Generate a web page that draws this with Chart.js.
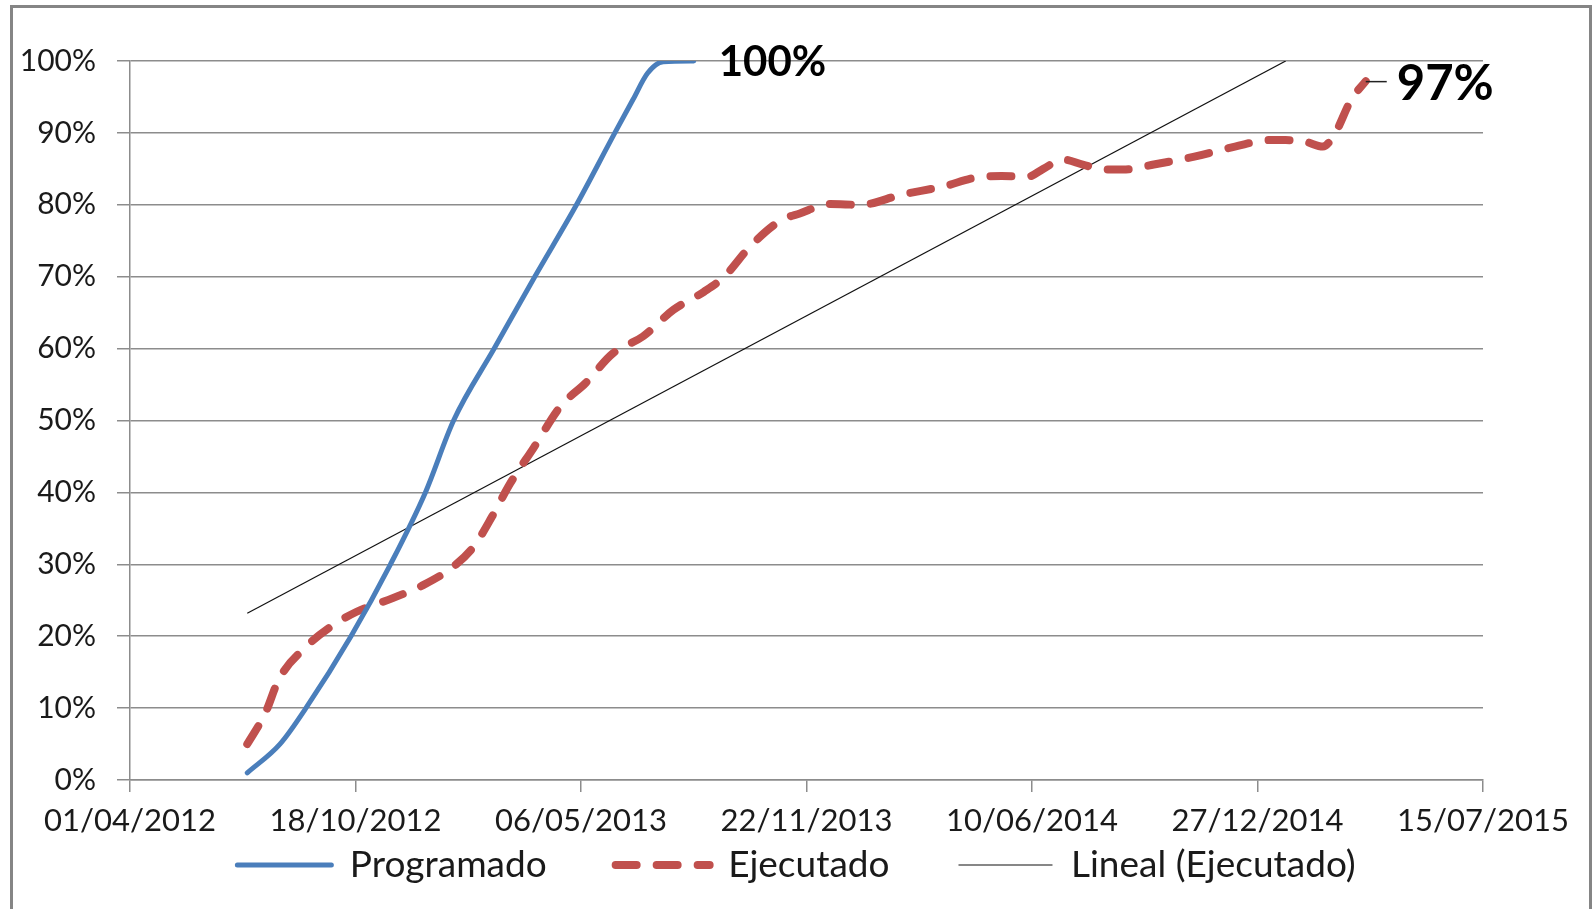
<!DOCTYPE html>
<html><head><meta charset="utf-8">
<script src="https://cdn.jsdelivr.net/npm/chart.js@4.4.1/dist/chart.umd.min.js"></script>
<style>html,body{margin:0;padding:0;background:#fff;overflow:hidden}</style>
</head><body>
<canvas id="c" width="1593" height="909"></canvas>
<script>
// ---- data ----
const seriesNames = ['Programado', 'Ejecutado', 'Lineal (Ejecutado)'];

const programadoDates = ['2012-07-14','2012-08-12','2012-09-04','2012-10-14','2012-11-18','2012-12-19',
  '2013-01-13','2013-02-18','2013-03-26','2013-05-02','2013-06-05','2013-06-21','2013-07-04','2013-07-18','2013-08-14'];
const programadoValues = [1, 5, 10, 20, 30, 40, 50, 60, 70, 80, 90, 94.6, 98.3, 99.9, 100];

const ejecutadoDates = ['2012-07-14','2012-07-30','2012-08-11','2012-09-04','2012-09-26','2012-10-19','2012-11-20',
  '2012-12-17','2013-01-13','2013-01-31','2013-02-16','2013-03-04','2013-03-25','2013-04-18','2013-05-10',
  '2013-06-03','2013-06-30','2013-07-27','2013-08-23','2013-09-10','2013-10-03','2013-10-30','2013-11-16',
  '2013-12-13','2014-01-09','2014-02-14','2014-03-22','2014-04-26','2014-05-14','2014-06-06','2014-06-20',
  '2014-07-07','2014-07-25','2014-08-12','2014-08-30','2014-09-26','2014-11-01','2014-12-07','2015-01-07',
  '2015-01-21','2015-02-07','2015-02-23','2015-03-06','2015-03-20','2015-04-02'];
const ejecutadoValues = [5, 9.3, 14, 18.5, 21.3, 23.4, 25.3, 27.1, 29.7, 32.5, 36.6, 41.2, 46.2, 52, 55.2,
  59.3, 61.7, 65.4, 67.9, 70, 74.2, 77.8, 78.8, 80.1, 80, 81.4, 82.5, 83.9, 84, 83.9, 85,
  86.3, 85.6, 84.9, 84.9, 85.6, 86.7, 88.1, 89, 89, 88.8, 88.1, 90, 94.6, 97.2];

const trendDates = ['2012-07-14', '2015-01-21'];
const trendValues = [23.2, 100];

const xAxisStart = '2012-04-01';
const xAxisEnd = '2015-07-15';
const xAxisStepDays = 200;
const yAxisMin = 0, yAxisMax = 100, yAxisStep = 10;

// ---- helpers ----
function toSerial(iso) { return Date.parse(iso + 'T00:00:00Z') / 86400000 + 25569; }
function fmtSerial(s) {
  const d = new Date(Math.round((s - 25569) * 86400000));
  const p = n => String(n).padStart(2, '0');
  return p(d.getUTCDate()) + '/' + p(d.getUTCMonth() + 1) + '/' + d.getUTCFullYear();
}
const pts = (dates, vals) => dates.map((d, i) => ({x: toSerial(d), y: vals[i]}));

const FONT = 'Lato';
const TXT = '#1a1a1a';
const GRID = '#8c8c8c';

const frame = {
  id: 'frame',
  beforeDraw(chart) {
    const c = chart.ctx;
    c.save();
    c.fillStyle = '#fff';
    c.fillRect(0, 0, chart.width, chart.height);
    c.strokeStyle = '#858585';
    c.lineWidth = 3;
    c.strokeRect(11.5, 6.5, 1579, 1000);
    c.restore();
  }
};

// place the legend row like the original (below the axis labels, shifted right)
const legendPlace = {
  id: 'legendPlace',
  afterLayout(chart) {
    const lg = chart.legend;
    if (!lg) return;
    const h = lg.height;
    lg.top = 777.5; lg.bottom = lg.top + h;
    lg.left += 55; lg.right += 55;
  }
};

const endLabelStyle = [
  {dataset: 0, dx: 25, dy: 1, size: 42, leader: 0},
  {dataset: 1, dx: 31, dy: 3, size: 49, leader: 21}
];
const endLabels = {
  id: 'endLabels',
  afterDatasetsDraw(chart) {
    const c = chart.ctx;
    endLabelStyle.forEach(st => {
      const ds = chart.data.datasets[st.dataset];
      const meta = chart.getDatasetMeta(st.dataset);
      const last = meta.data[meta.data.length - 1];
      const v = ds.data[ds.data.length - 1].y;
      c.save();
      if (st.leader) {
        c.strokeStyle = '#222';
        c.lineWidth = 1.5;
        c.beginPath();
        c.moveTo(last.x, last.y + 0.5);
        c.lineTo(last.x + st.leader, last.y + 0.5);
        c.stroke();
      }
      c.fillStyle = '#000';
      c.font = 'bold ' + st.size + 'px ' + FONT;
      c.textBaseline = 'middle';
      c.textAlign = 'left';
      c.fillText(Math.round(v) + '%', last.x + st.dx, last.y + st.dy);
      c.restore();
    });
  }
};

new Chart(document.getElementById('c'), {
  type: 'line',
  data: {
    datasets: [
      {label: seriesNames[0], data: pts(programadoDates, programadoValues), borderColor: '#4A7EBB',
       backgroundColor: '#4A7EBB', borderWidth: 5, pointRadius: 0, pointStyle: 'line',
       cubicInterpolationMode: 'monotone', borderCapStyle: 'round', borderJoinStyle: 'round', fill: false},
      {label: seriesNames[1], data: pts(ejecutadoDates, ejecutadoValues), borderColor: '#C0504D',
       backgroundColor: '#C0504D', borderWidth: 8, borderDash: [21, 20], pointRadius: 0, pointStyle: 'line',
       cubicInterpolationMode: 'monotone', borderCapStyle: 'round', borderJoinStyle: 'round', fill: false},
      {label: seriesNames[2], data: pts(trendDates, trendValues), borderColor: '#111',
       backgroundColor: '#111', borderWidth: 1.2, pointRadius: 0, pointStyle: 'line', tension: 0,
       borderCapStyle: 'butt', fill: false}
    ]
  },
  options: {
    responsive: false, animation: false, devicePixelRatio: 1,
    layout: {padding: {top: 61, right: 110, bottom: -47, left: 0}},
    scales: {
      x: {
        type: 'linear', min: toSerial(xAxisStart), max: toSerial(xAxisEnd),
        ticks: {stepSize: xAxisStepDays, callback: v => fmtSerial(v), font: {family: FONT, size: 31},
                color: TXT, padding: 10, maxRotation: 0, autoSkip: false},
        grid: {drawOnChartArea: false, drawTicks: true, tickLength: 12, color: GRID, lineWidth: 1.5},
        border: {display: true, color: GRID, width: 1.5},
        afterFit(s) { s.height = 60; }
      },
      y: {
        min: yAxisMin, max: yAxisMax,
        ticks: {stepSize: yAxisStep, callback: v => v + '%', font: {family: FONT, size: 30},
                color: TXT, padding: 21},
        grid: {color: GRID, lineWidth: 1.5, tickLength: 13},
        border: {display: true, color: GRID, width: 1.5},
        afterFit(s) { s.width = 130; }
      }
    },
    plugins: {
      legend: {
        position: 'bottom',
        labels: {
          usePointStyle: true, pointStyleWidth: 94, font: {family: FONT, size: 37},
          color: TXT, padding: 69,
          generateLabels(chart) {
            const items = Chart.defaults.plugins.legend.labels.generateLabels(chart);
            return items.map(it => {
              const ds = chart.data.datasets[it.datasetIndex];
              it.lineDash = ds.borderDash || [];
              it.lineCap = ds.borderCapStyle || 'butt';
              it.lineWidth = ds.borderWidth;
              it.strokeStyle = ds.borderColor;
              return it;
            });
          }
        }
      },
      tooltip: {enabled: false}
    }
  },
  plugins: [frame, legendPlace, endLabels]
});
</script>
</body></html>
